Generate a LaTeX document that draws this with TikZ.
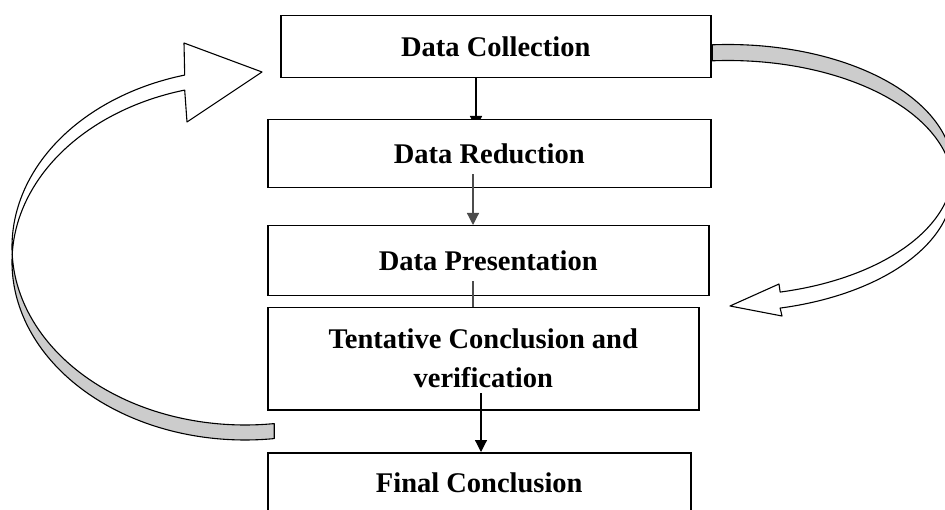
\documentclass[tikz,border=0pt]{standalone}
\usepackage{fontspec}
\setmainfont{Liberation Serif}
\usetikzlibrary{arrows.meta,calc}
\pgfdeclarelayer{back}
\pgfsetlayers{back,main}
\begin{document}
\begin{tikzpicture}[x=1pt,y=-1pt,
  stage/.style={draw, line width=1.5pt, fill=white, anchor=north west,
    inner sep=0pt, align=center,
    font=\fontsize{28.5}{39}\selectfont\bfseries},
  link/.style={line width=1.2pt},
  tip/.style={-{Triangle[width=12pt,length=12pt]}},
  band/.style={draw=black, line width=1.1pt, line join=round},
  shade/.style={fill=gray!40},
]
\useasboundingbox (0,0) rectangle (945,510);
\clip (0,0) rectangle (945,510);

% process stages
\node[stage, minimum width=430pt, minimum height=62pt]  (dc) at (280,15)  {Data Collection};
\node[stage, minimum width=443pt, minimum height=68pt]  (dr) at (267,119) {Data Reduction};
\node[stage, minimum width=441pt, minimum height=70pt]  (dp) at (267,225) {Data Presentation};
\node[stage, minimum width=431pt, minimum height=102pt] (tc) at (267,307) {Tentative Conclusion and\\verification};
\node[stage, minimum width=423pt, minimum height=60pt]  (fc) at (267,452) {Final Conclusion};

% x positions of the vertical links
\coordinate (k1) at (476,0);
\coordinate (k2) at (473,0);
\coordinate (k4) at (481,0);

\begin{pgfonlayer}{back}
  % right loop: two offset ellipses, shaded back face then white front face
  \filldraw[band, shade]
    plot[domain=-94:3.65, samples=90] ({728+225*cos(\x)},{170+125.5*sin(\x)})
    -- plot[domain=-3.65:-94, samples=90] ({728+225*cos(\x)},{186+125.5*sin(\x)})
    -- cycle;
  \filldraw[band, fill=white]
    plot[domain=3.65:76.6, samples=90] ({728+225*cos(\x)},{170+125.5*sin(\x)})
    -- (779,284) -- (730,306) -- (782,316)
    -- plot[domain=76.6:-3.65, samples=90] ({728+225*cos(\x)},{186+125.5*sin(\x)})
    -- cycle;

  % left loop back to data collection
  \filldraw[band, shade]
    plot[domain=82.8:177.6, samples=90] ({245+233*cos(\x)},{247+178*sin(\x)})
    -- plot[domain=182.4:82.8, samples=90] ({245+233*cos(\x)},{262+178*sin(\x)})
    -- cycle;
  \filldraw[band, fill=white]
    plot[domain=182.4:255, samples=90] ({245+233*cos(\x)},{262+178*sin(\x)})
    -- (187,122) -- (262,72) -- (184,43)
    -- plot[domain=255:177.6, samples=90] ({245+233*cos(\x)},{247+178*sin(\x)})
    -- cycle;

  % first link, its head tucked under the next box
  \draw[link, tip] (dc.south -| k1) -- ($(dr.north -| k1)+(0,9)$);
\end{pgfonlayer}

% remaining links
\draw[link, draw=black!70, tip] ($(dr.south -| k2)+(0,-14)$) -- (dp.north -| k2);
\draw[link, draw=black!70] ($(dp.south -| k2)+(0,-15)$) -- (tc.north -| k2);
\draw[link, tip] ($(tc.south -| k4)+(0,-17)$) -- (fc.north -| k4);
\end{tikzpicture}
\end{document}
